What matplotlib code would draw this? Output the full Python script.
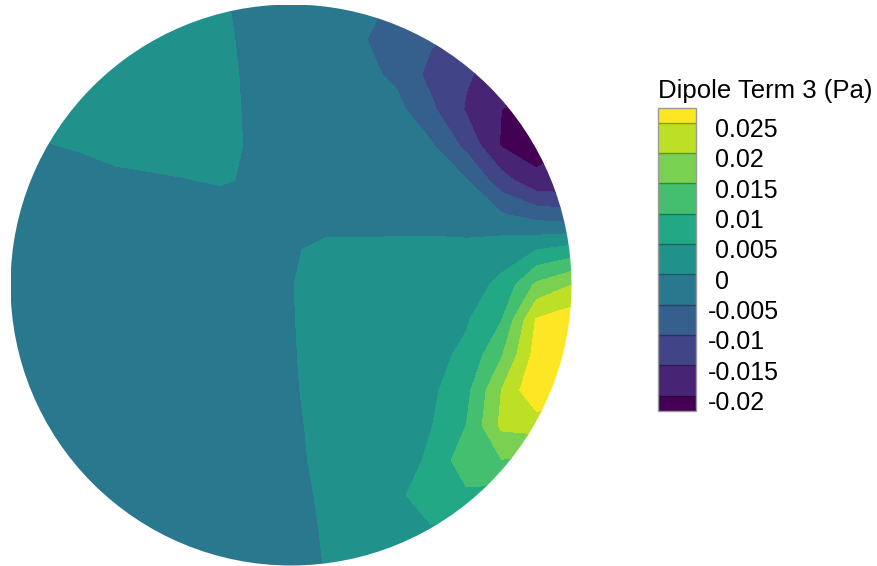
import numpy as np
import matplotlib
matplotlib.use("Agg")
import matplotlib.pyplot as plt
from matplotlib.colors import ListedColormap, BoundaryNorm
from matplotlib.cm import ScalarMappable
from matplotlib.patches import Circle
from matplotlib.transforms import ScaledTranslation

plt.rcParams['font.family'] = ['Liberation Sans', 'DejaVu Sans']
plt.rcParams['axes.unicode_minus'] = False

#__ Nodal values of dipole term 3 on the unit disc (Pa) ______
# rows go from y=+1 (top) to y=-1 (bottom), columns from x=-1 to x=+1
grid_x = np.linspace(-1, 1, 17)
grid_y = np.linspace(1, -1, 17)

dipole_term3 = np.array([
    [0.002, 0.002, 0.002, 0.002, 0.002, 0.002, 0.001, -0.003, -0.002, -0.002, -0.003, -0.006, -0.010, -0.012, -0.014, -0.016, -0.018],
    [0.002, 0.002, 0.002, 0.002, 0.002, 0.002, 0.002, -0.003, -0.002, -0.002, -0.0045, -0.0075, -0.0095, -0.011, -0.014, -0.016, -0.018],
    [0.002, 0.002, 0.002, 0.002, 0.002, 0.002, 0.002, -0.0019, -0.002, -0.002, -0.0035, -0.006, -0.0115, -0.0145, -0.017, -0.019, -0.020],
    [0.0015, 0.0015, 0.002, 0.002, 0.002, 0.002, 0.002, -0.0015, -0.002, -0.002, -0.002, -0.0035, -0.009, -0.0155, -0.020, -0.022, -0.021],
    [-0.0005, -0.0002, 0.00055, 0.002, 0.002, 0.002, 0.002, -0.0012, -0.002, -0.002, -0.002, -0.002, -0.0045, -0.0115, -0.0205, -0.022, -0.020],
    [-0.002, -0.002, -0.002, -0.0013, -0.0006, -0.0001, 0.0004, -0.0006, -0.002, -0.002, -0.002, -0.002, -0.002, -0.0048, -0.013, -0.019, -0.019],
    [-0.002, -0.002, -0.002, -0.002, -0.002, -0.002, -0.002, -0.002, -0.002, -0.002, -0.002, -0.002, -0.002, -0.003, -0.0045, -0.007, -0.008],
    [-0.002, -0.002, -0.002, -0.002, -0.002, -0.002, -0.002, -0.002, -0.0005, 0.0011, 0.0011, 0.0012, 0.0013, 0.0015, 0.003, 0.005, 0.007],
    [-0.002, -0.002, -0.002, -0.002, -0.002, -0.002, -0.002, -0.002, -0.0002, 0.002, 0.002, 0.002, 0.0025, 0.003, 0.006, 0.016, 0.020],
    [-0.002, -0.002, -0.002, -0.002, -0.002, -0.002, -0.002, -0.002, -0.0003, 0.002, 0.002, 0.0022, 0.003, 0.0045, 0.0098, 0.0255, 0.028],
    [-0.002, -0.002, -0.002, -0.002, -0.002, -0.002, -0.002, -0.002, -0.0004, 0.0018, 0.002, 0.0025, 0.0035, 0.006, 0.0145, 0.027, 0.029],
    [-0.002, -0.002, -0.002, -0.002, -0.002, -0.002, -0.002, -0.002, -0.0005, 0.0015, 0.002, 0.0025, 0.004, 0.0085, 0.020, 0.0295, 0.0295],
    [-0.002, -0.002, -0.002, -0.002, -0.002, -0.002, -0.002, -0.002, -0.0008, 0.0013, 0.002, 0.0025, 0.0048, 0.010, 0.021, 0.022, 0.020],
    [-0.002, -0.002, -0.002, -0.002, -0.002, -0.002, -0.002, -0.002, -0.001, 0.0011, 0.002, 0.0022, 0.006, 0.013, 0.0148, 0.014, 0.012],
    [-0.002, -0.002, -0.002, -0.002, -0.002, -0.002, -0.002, -0.002, -0.0015, 0.0008, 0.0015, 0.004, 0.0075, 0.009, 0.008, 0.007, 0.006],
    [-0.002, -0.002, -0.002, -0.002, -0.002, -0.002, -0.002, -0.002, -0.002, 0.0005, 0.0015, 0.003, 0.0045, 0.0045, 0.004, 0.004, 0.004],
    [-0.002, -0.002, -0.002, -0.002, -0.002, -0.002, -0.002, -0.002, -0.002, 0.0002, 0.0015, 0.0025, 0.003, 0.003, 0.003, 0.003, 0.003],
])

levels = [-0.025, -0.02, -0.015, -0.01, -0.005, 0.0, 0.005, 0.01, 0.015, 0.02, 0.025, 0.03]
tick_values = [-0.02, -0.015, -0.01, -0.005, 0.0, 0.005, 0.01, 0.015, 0.02, 0.025]
tick_labels = ["-0.02", "-0.015", "-0.01", "-0.005", " 0", " 0.005", " 0.01", " 0.015", " 0.02", " 0.025"]

# 11 discrete viridis bands
cmap = ListedColormap(plt.cm.viridis(np.linspace(0, 1, len(levels) - 1)))
norm = BoundaryNorm(levels, cmap.N)

fig = plt.figure(figsize=(8.77, 5.66), dpi=100)

#__ Disc with filled contours ______
ax = fig.add_axes([10.5/877, 0.5/566, 561/877, 561/566])
X, Y = np.meshgrid(grid_x, grid_y)
cf = ax.contourf(X, Y, dipole_term3, levels=levels, cmap=cmap, norm=norm)
disc = Circle((0, 0), 1.0, transform=ax.transData, facecolor='none', edgecolor='none')
ax.add_patch(disc)
cf.set_clip_path(disc)
ax.set_xlim(-1, 1)
ax.set_ylim(-1, 1)
ax.set_aspect('equal')
ax.axis('off')

#__ Legend bar: half-height end bands like the scalar bar ______
cb_bounds = [-0.0225] + tick_values + [0.0275]
cb_values = [-0.0225, -0.0175, -0.0125, -0.0075, -0.0025, 0.0025, 0.0075, 0.0125, 0.0175, 0.0225, 0.0275]
cax = fig.add_axes([658/877, (566-410.7)/566, 38/877, 303.2/566])
sm = ScalarMappable(norm=norm, cmap=cmap)
cb = fig.colorbar(sm, cax=cax, boundaries=cb_bounds, values=cb_values,
                  spacing='proportional', drawedges=True)
cb.outline.set_edgecolor('#9a9a9a')
cb.outline.set_linewidth(1.0)
cb.dividers.set_color((0, 0, 0, 0.3))
cb.dividers.set_linewidth(1.0)
cb.set_ticks(tick_values)
cb.set_ticklabels(tick_labels)
cax.tick_params(length=0, pad=8.5, labelsize=18)
shift = ScaledTranslation(0, -5/100, fig.dpi_scale_trans)
for lab in cax.get_yticklabels():
    lab.set_transform(lab.get_transform() + shift)

fig.text(658/877, (566-98)/566, "Dipole Term 3 (Pa)", ha='left', va='baseline', fontsize=18.5)

fig.savefig("out.png", dpi=100)
